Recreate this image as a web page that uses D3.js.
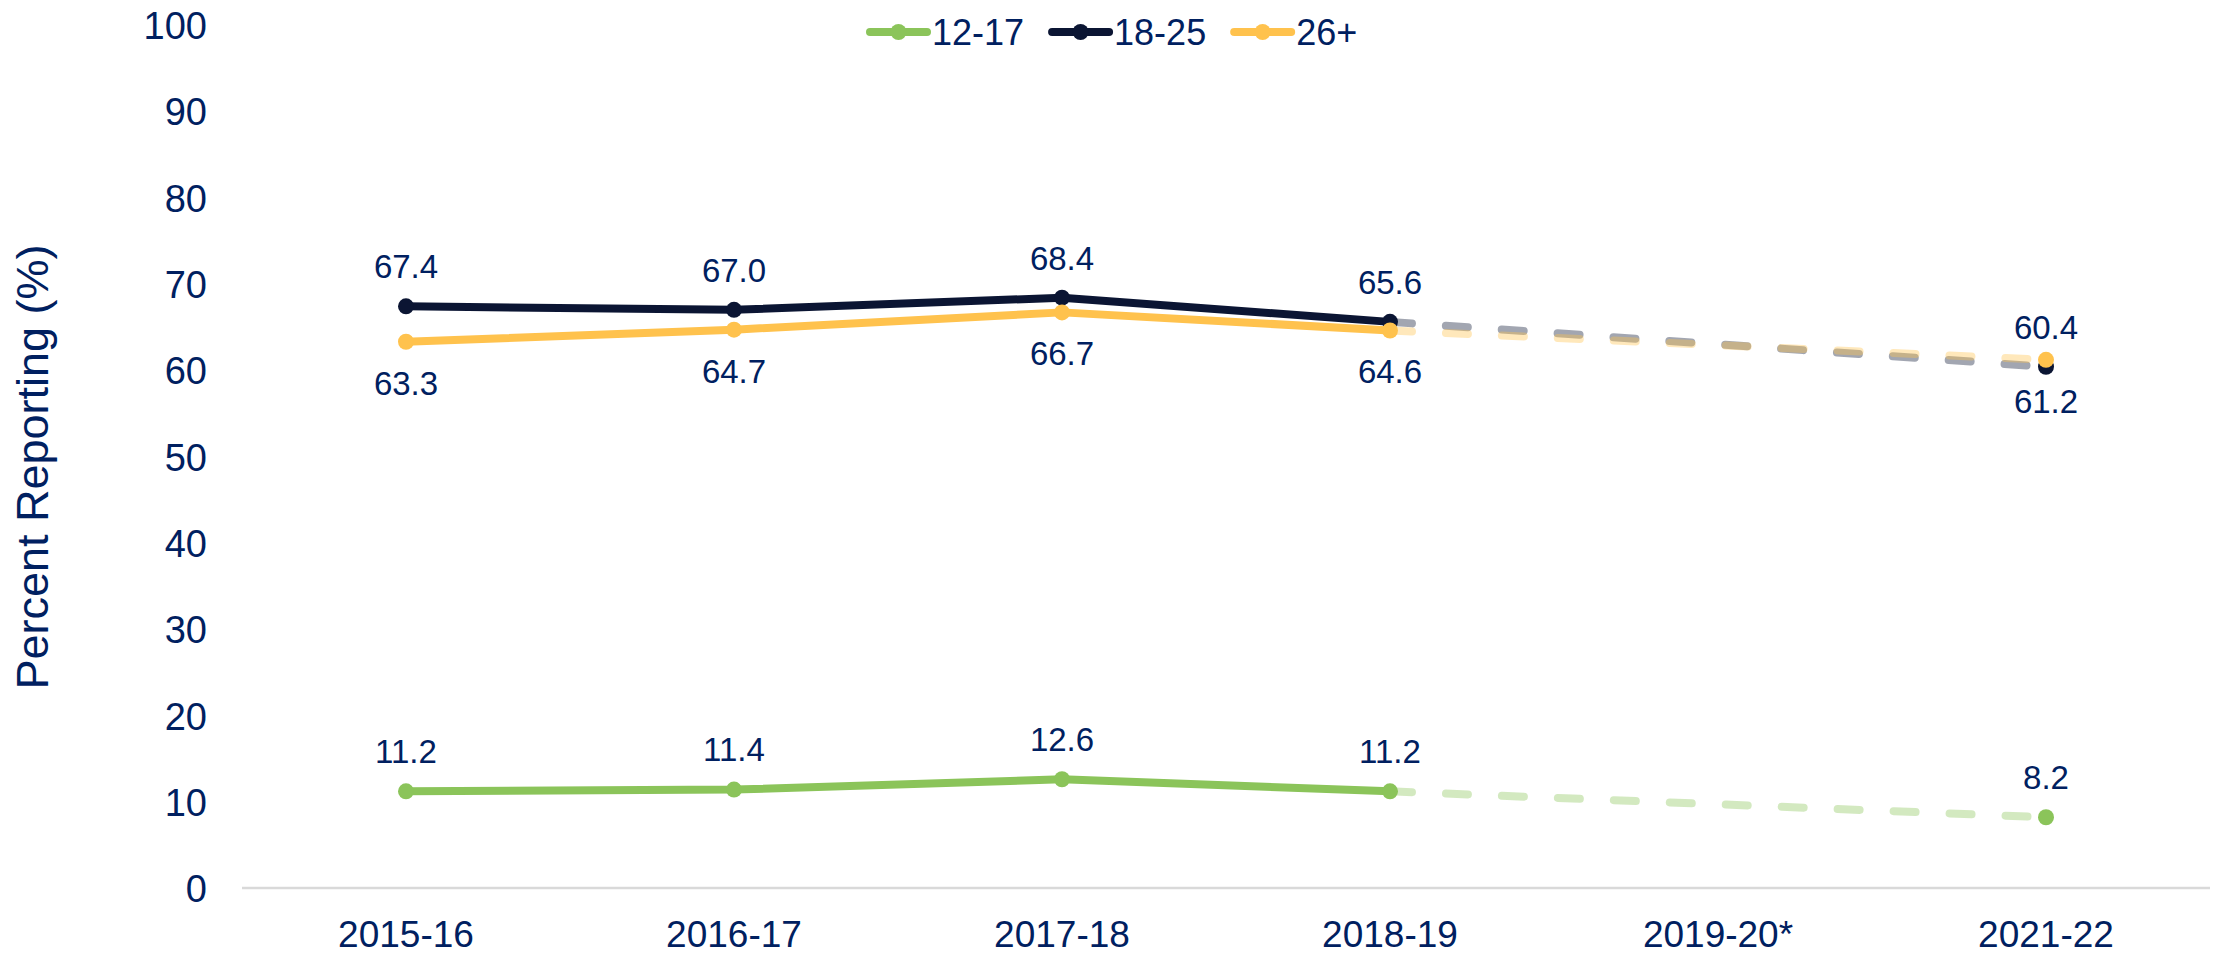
<!DOCTYPE html>
<html>
<head>
<meta charset="utf-8">
<script src="https://cdn.jsdelivr.net/npm/d3@7"></script>
<style>
  body { margin: 0; background: #fff; }
  svg { display: block; font-family: "Liberation Sans", Arial, sans-serif; }
  text { fill: #002060; }
</style>
</head>
<body>
<div id="chart"></div>
<script>
//Chart data
var years = ["2015-16", "2016-17", "2017-18", "2018-19", "2019-20*", "2021-22"];
var ages = ["12-17", "18-25", "26+"];
var teen = [11.2, 11.4, 12.6, 11.2, null, 8.2];
var young = [67.4, 67.0, 68.4, 65.6, null, 60.4];
var adult = [63.3, 64.7, 66.7, 64.6, null, 61.2];
var yTicks = [0, 10, 20, 30, 40, 50, 60, 70, 80, 90, 100];

//System dimensions
var width = 2213;
var height = 954;

var colors = {"12-17": "#8BC45A", "18-25": "#0B1533", "26+": "#FFC24D"};
var labelOffset = {"12-17": -40, "18-25": -40, "26+": 41};

var series = [
    {name: "12-17", values: teen},
    {name: "18-25", values: young},
    {name: "26+", values: adult}
];

var x = d3.scaleBand()
    .domain(years)
    .range([242, 2210]);

var y = d3.scaleLinear()
    .domain([0, 100])
    .range([888, 25]);

function cx(year) {
    return x(year) + x.bandwidth() / 2;
}

var svg = d3.select("#chart")
    .append("svg")
    .attr("width", width)
    .attr("height", height);

//Baseline
svg.append("line")
    .attr("x1", x.range()[0])
    .attr("x2", x.range()[1])
    .attr("y1", y(0))
    .attr("y2", y(0))
    .attr("stroke", "#D9D9D9")
    .attr("stroke-width", 2.5);

//Y axis
var yAxis = svg.append("g")
    .attr("transform", "translate(207,0)")
    .call(d3.axisLeft(y).tickValues(yTicks).tickSize(0).tickPadding(0));
yAxis.select(".domain").remove();
yAxis.selectAll("text")
    .attr("x", 0)
    .attr("dy", "0.36em")
    .style("font-size", "38px")
    .attr("fill", "#002060");

//X axis
var xAxis = svg.append("g")
    .attr("transform", "translate(0," + y(0) + ")")
    .call(d3.axisBottom(x).tickSize(0).tickPadding(0));
xAxis.select(".domain").remove();
xAxis.selectAll("text")
    .attr("y", 59)
    .attr("dy", 0)
    .style("font-size", "37px")
    .attr("fill", "#002060");

//Y title
svg.append("text")
    .attr("transform", "translate(48,467) rotate(-90)")
    .attr("text-anchor", "middle")
    .style("font-size", "45px")
    .text("Percent Reporting (%)");

var line = d3.line()
    .defined(function(d) { return d.v != null; })
    .x(function(d) { return cx(d.year); })
    .y(function(d) { return y(d.v); });

series.forEach(function(s) {
    var pts = years.map(function(yr, i) {
        return {year: yr, v: s.values[i]};
    });
    var solid = pts.slice(0, 4);
    var dashed = pts.filter(function(d, i) {
        return i >= 3 && d.v != null;
    });
    var g = svg.append("g");

    g.append("path")
        .datum(dashed)
        .attr("d", line)
        .attr("fill", "none")
        .attr("stroke", colors[s.name])
        .attr("stroke-opacity", 0.38)
        .attr("stroke-width", 8)
        .attr("stroke-linecap", "round")
        .attr("stroke-dasharray", "22,34");

    g.append("path")
        .datum(solid)
        .attr("d", line)
        .attr("fill", "none")
        .attr("stroke", colors[s.name])
        .attr("stroke-width", 8)
        .attr("stroke-linejoin", "round");

    g.selectAll("circle")
        .data(pts.filter(function(d) { return d.v != null; }))
        .enter()
        .append("circle")
        .attr("cx", function(d) { return cx(d.year); })
        .attr("cy", function(d) { return y(d.v); })
        .attr("r", 8)
        .attr("fill", colors[s.name]);
});

//Data labels
series.forEach(function(s) {
    svg.append("g")
        .selectAll("text")
        .data(years.map(function(yr, i) {
            return {year: yr, v: s.values[i]};
        }).filter(function(d) { return d.v != null; }))
        .enter()
        .append("text")
        .attr("x", function(d) { return cx(d.year); })
        .attr("y", function(d) { return y(d.v) + labelOffset[s.name]; })
        .attr("dy", "0.36em")
        .attr("text-anchor", "middle")
        .style("font-size", "33px")
        .text(function(d) { return d.v.toFixed(1); });
});

//Legend
var legend = svg.append("g")
    .attr("transform", "translate(870,32)");
var lx = 0;
ages.forEach(function(a) {
    var item = legend.append("g")
        .attr("transform", "translate(" + lx + ",0)");
    item.append("line")
        .attr("x1", 0)
        .attr("x2", 57)
        .attr("stroke", colors[a])
        .attr("stroke-width", 8)
        .attr("stroke-linecap", "round");
    item.append("circle")
        .attr("cx", 28.5)
        .attr("r", 8)
        .attr("fill", colors[a]);
    var t = item.append("text")
        .attr("x", 62)
        .attr("dy", "0.36em")
        .style("font-size", "36px")
        .text(a);
    lx += 62 + t.node().getComputedTextLength() + 28;
});
</script>
</body>
</html>
